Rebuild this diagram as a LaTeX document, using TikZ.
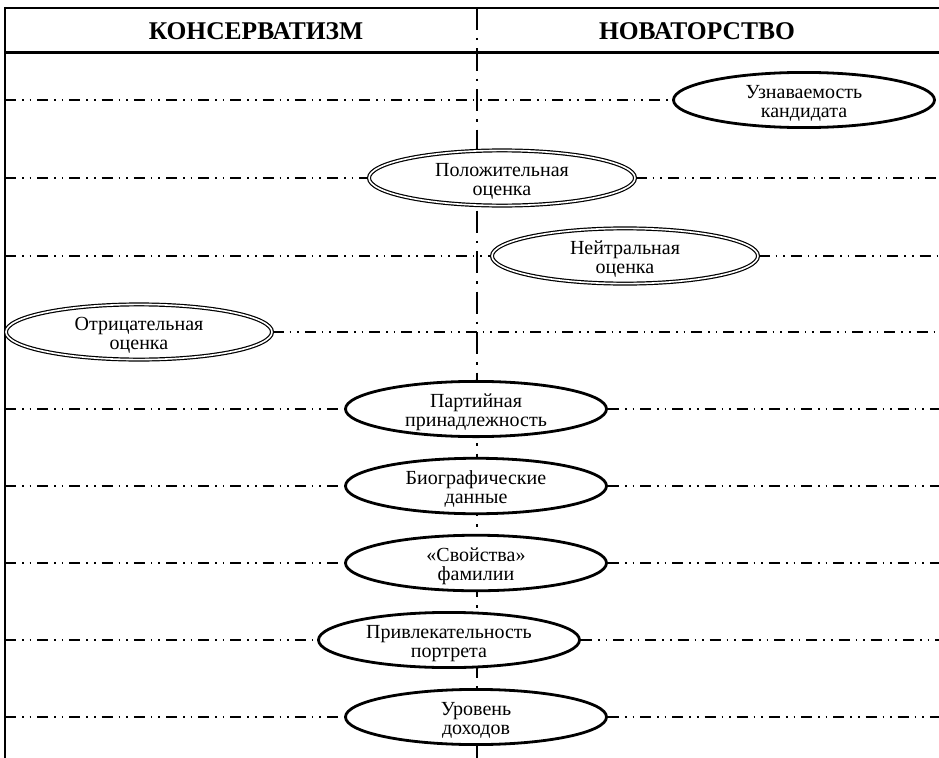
\documentclass[tikz,border=0pt]{standalone}
\usepackage{fontspec}
\setmainfont{Liberation Serif}
\usetikzlibrary{shapes.geometric}
% two centred lines, set a little below the node centre
\newcommand\twolines[2]{\raisebox{-4bp}[\height][\depth]{\begin{tabular}{@{}c@{}}#1\\#2\end{tabular}}}
\begin{document}
\begin{tikzpicture}[x=1bp,y=-1bp,
  factor/.style={ellipse, draw, fill=white, line width=2.8bp, inner sep=0pt,
    font=\fontsize{20bp}{19.5bp}\selectfont,
    minimum width=261bp, minimum height=55bp},
  dfactor/.style={factor, line width=1.2bp, double, double distance=1.6bp,
    minimum width=266bp, minimum height=52bp},
  level/.style={line width=1.5bp,
    dash pattern=on 11bp off 6bp on 1.6bp off 6bp on 1.6bp off 6bp},
  divider/.style={line width=2.2bp, dash pattern=on 22bp off 8bp on 2.5bp off 8bp},
  head/.style={font=\fontsize{25.5bp}{27bp}\selectfont\bfseries}
]
\useasboundingbox (0,0) rectangle (939,758);

% frame and header
\draw[line width=1.6bp] (5,8) -- (939,8);
\draw[line width=3bp] (5,53) -- (939,53);
\draw[line width=2.6bp] (5,7) -- (5,758);
\draw[divider] (477,8) -- (477,758);

\node[head] (kons) at (256,31) {КОНСЕРВАТИЗМ};
\node[head] (nov) at (697,31) {НОВАТОРСТВО};

% level end points on the frame sides
\foreach \i/\y in {1/100,2/178,3/256,4/332,5/409,6/486,7/563,8/640,9/717}{
  \coordinate (L\i) at (5,\y);
  \coordinate (R\i) at (939,\y);
}

% factors
\node[factor]  (u) at (804,100) {\twolines{Узнаваемость}{кандидата}};
\node[dfactor] (p) at (502,178) {\twolines{Положительная}{оценка}};
\node[dfactor] (n) at (625,256) {\twolines{Нейтральная}{оценка}};
\node[dfactor] (o) at (139,332) {\twolines{Отрицательная}{оценка}};
\node[factor]  (party) at (476,409) {\twolines{Партийная}{принадлежность}};
\node[factor]  (bio) at (476,486) {\twolines{Биографические}{данные}};
\node[factor]  (name) at (476,563) {\twolines{«Свойства»}{фамилии}};
\node[factor]  (port) at (449,640) {\twolines{Привлекательность}{портрета}};
\node[factor]  (inc) at (476,717) {\twolines{Уровень}{доходов}};

% levels
\draw[level] (L1) -- (u.west);
\draw[level] (L2) -- (p.west);
\draw[level] (p.east) -- (R2);
\draw[level] (L3) -- (n.west);
\draw[level] (n.east) -- (R3);
\draw[level] (o.east) -- (R4);
\draw[level] (L5) -- (party.west);
\draw[level] (party.east) -- (R5);
\draw[level] (L6) -- (bio.west);
\draw[level] (bio.east) -- (R6);
\draw[level] (L7) -- (name.west);
\draw[level] (name.east) -- (R7);
\draw[level] (L8) -- (port.west);
\draw[level] (port.east) -- (R8);
\draw[level] (L9) -- (inc.west);
\draw[level] (inc.east) -- (R9);
\end{tikzpicture}
\end{document}
